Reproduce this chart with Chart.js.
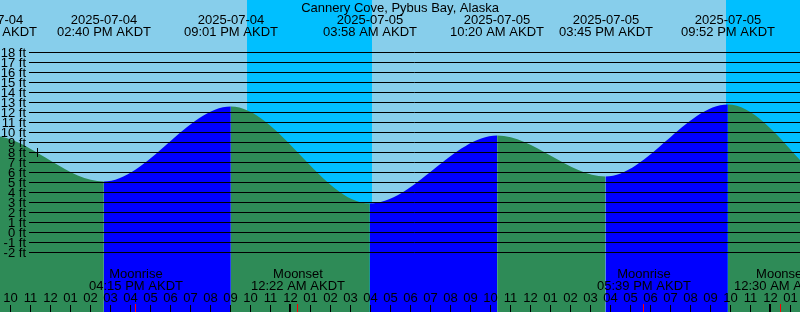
<!DOCTYPE html>
<html>
<head>
<meta charset="utf-8">
<script src="https://cdn.jsdelivr.net/npm/chart.js@4"></script>
<style>
body { margin: 0; background: #87ceeb; }
canvas { display: block; }
</style>
</head>
<body>
<canvas id="tideChart" width="800" height="312"></canvas>
<script>
const stationName = "Cannery Cove, Pybus Bay, Alaska";

// tide highs and lows (the first two and the last two lie outside the picture)
const tideDates = ["2025-07-04", "2025-07-04", "2025-07-04", "2025-07-04", "2025-07-05", "2025-07-05", "2025-07-05", "2025-07-05", "2025-07-06", "2025-07-06"];
const tideTimes = ["02:35 AM AKDT", "08:59 AM AKDT", "02:40 PM AKDT", "09:01 PM AKDT", "03:58 AM AKDT", "10:20 AM AKDT", "03:45 PM AKDT", "09:52 PM AKDT", "04:30 AM AKDT", "10:55 AM AKDT"];
const tideHeights = [2.0, 9.7, 5.1, 12.6, 2.9, 9.7, 5.6, 12.8, 3.0, 9.6];

const moonEvents = ["Moonrise", "Moonset", "Moonrise", "Moonset"];
const moonDates = ["2025-07-04", "2025-07-05", "2025-07-05", "2025-07-06"];
const moonTimes = ["04:15 PM AKDT", "12:22 AM AKDT", "05:39 PM AKDT", "12:30 AM AKDT"];

const sunsetDates = ["2025-07-04", "2025-07-05"];
const sunsetTimes = ["09:49 PM AKDT", "09:48 PM AKDT"];
const sunriseDates = ["2025-07-05", "2025-07-06"];
const sunriseTimes = ["04:05 AM AKDT", "04:07 AM AKDT"];

const levelTicks = [-2, -1, 0, 1, 2, 3, 4, 5, 6, 7, 8, 9, 10, 11, 12, 13, 14, 15, 16, 17, 18];

const markDate = "2025-07-04";
const markTime = "11:21 AM AKDT";
const markLevel = 8;

const FALL = "#2e8b57";
const RISE = "#0000ff";
const DAY = "#87ceeb";
const NIGHT = "#00bfff";
const FONT = '13px "Liberation Sans", Arial, sans-serif';

// hours counted from 2025-07-04 00:00
function toHours(date, time) {
    const day = parseInt(date.slice(8), 10) - 4;
    let hr = parseInt(time.slice(0, 2), 10) % 12;
    const min = parseInt(time.slice(3, 5), 10);
    if (time.slice(6, 8) === "PM") hr += 12;
    return day * 24 + hr + min / 60;
}

const tidePoints = tideHeights.map((v, i) => ({ x: toHours(tideDates[i], tideTimes[i]), y: v }));

const tideDecor = {
    id: "tideDecor",
    beforeDraw(chart) {
        const { ctx, scales: { x }, chartArea: a } = chart;
        ctx.save();
        ctx.fillStyle = DAY;
        ctx.fillRect(a.left, a.top, a.right - a.left, a.bottom - a.top);
        ctx.fillStyle = NIGHT;
        sunsetTimes.forEach((t, i) => {
            const x0 = Math.round(x.getPixelForValue(toHours(sunsetDates[i], t)));
            const x1 = Math.round(x.getPixelForValue(toHours(sunriseDates[i], sunriseTimes[i])));
            ctx.fillRect(x0, a.top, x1 - x0, a.bottom - a.top);
        });
        ctx.restore();
    },
    afterDatasetsDraw(chart) {
        const { ctx, scales: { x, y }, chartArea: a } = chart;
        ctx.save();
        ctx.font = FONT;
        ctx.fillStyle = "#000";
        ctx.strokeStyle = "#000";
        ctx.lineWidth = 1;

        // level lines
        ctx.textAlign = "right";
        ctx.textBaseline = "alphabetic";
        levelTicks.forEach(v => {
            const py = y.getPixelForValue(v);
            ctx.beginPath();
            ctx.moveTo(29, py);
            ctx.lineTo(a.right, py);
            ctx.stroke();
            ctx.fillText(v + " ft", 26, py + 4.5);
        });

        // mark
        const mx = Math.floor(x.getPixelForValue(toHours(markDate, markTime))) + 0.5;
        const my = y.getPixelForValue(markLevel);
        ctx.beginPath();
        ctx.moveTo(mx, my - 4.5);
        ctx.lineTo(mx, my + 4.5);
        ctx.stroke();

        // title and tide labels
        ctx.textAlign = "center";
        ctx.fillText(stationName, 400, 12);
        tideTimes.forEach((t, i) => {
            const px = Math.round(x.getPixelForValue(toHours(tideDates[i], t)));
            ctx.fillText(tideDates[i], px, 24);
            ctx.fillText(t, px, 36);
        });

        // moon labels
        moonTimes.forEach((t, i) => {
            const px = x.getPixelForValue(toHours(moonDates[i], t));
            ctx.fillText(moonEvents[i], Math.round(px), 278);
            ctx.fillText(t, Math.round(px), 290);
        });

        // hour ticks
        for (let h = Math.ceil(x.min); h <= Math.floor(x.max); h++) {
            const px = x.getPixelForValue(h);
            let hr = h % 12;
            if (hr === 0) hr = 12;
            ctx.fillText(String(hr).padStart(2, "0"), px, 302);
            if (h % 24 === 0) {
                ctx.fillRect(px - 1.5, 304, 2, 8);
            } else {
                ctx.fillRect(px - 0.5, 305, 1, 7);
            }
        }

        ctx.fillStyle = "#ff0000";
        moonTimes.forEach((t, i) => {
            const px = x.getPixelForValue(toHours(moonDates[i], t));
            ctx.fillRect(Math.floor(px), 304, 1, 8);
        });
        ctx.restore();
    }
};

new Chart(document.getElementById("tideChart"), {
    type: "line",
    data: {
        datasets: [{
            data: tidePoints,
            fill: "start",
            backgroundColor: FALL,
            borderColor: "rgba(0,0,0,0)",
            borderWidth: 0,
            pointRadius: 0,
            cubicInterpolationMode: "monotone",
            segment: {
                backgroundColor: c => c.p1.parsed.y > c.p0.parsed.y ? RISE : FALL
            }
        }]
    },
    options: {
        responsive: false,
        animation: false,
        devicePixelRatio: 1,
        layout: { padding: 0 },
        plugins: {
            legend: { display: false },
            tooltip: { enabled: false }
        },
        scales: {
            x: { type: "linear", display: false, min: 9.475, max: 49.475 },
            y: { display: false, min: -7.95, max: 23.25 }
        }
    },
    plugins: [tideDecor]
});
</script>
</body>
</html>
